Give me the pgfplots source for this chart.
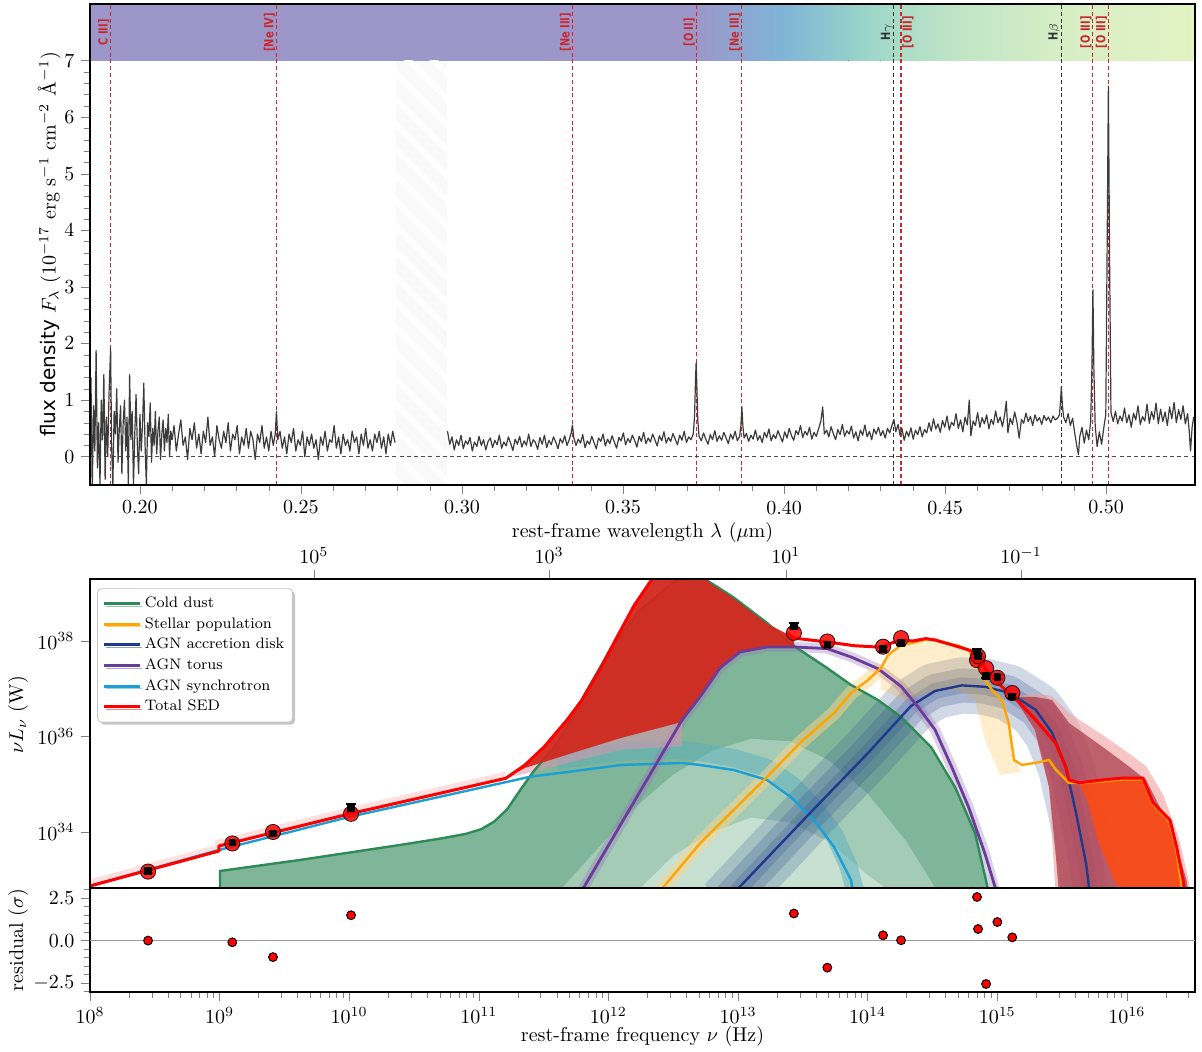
\documentclass[border=0pt]{standalone}
\usepackage{pgfplots}
\pgfplotsset{compat=1.18}
\usepackage{fontspec}
\newfontfamily\dejavu{DejaVu Sans}
\newfontfamily\dejavun[FakeStretch=0.78]{DejaVu Sans}
\usetikzlibrary{patterns.meta,shadows}

\definecolor{dustline}{HTML}{2E8B57}
\definecolor{dustfill}{HTML}{7FB598}
\definecolor{dustfillb}{HTML}{A3CBB6}
\definecolor{dustfillc}{HTML}{C6E0D2}
\definecolor{stellar}{HTML}{FFA500}
\definecolor{disk}{HTML}{1F3A8C}
\definecolor{diskband}{HTML}{34538F}
\definecolor{torus}{HTML}{6A3D9A}
\definecolor{sync}{HTML}{1A9FD6}
\definecolor{syncband}{HTML}{5AB0BE}
\definecolor{redfill}{HTML}{D2281E}
\definecolor{maroonf}{HTML}{A32A3E}
\definecolor{linered}{HTML}{C8282E}
\definecolor{specline}{HTML}{3C3C3C}
\definecolor{bandA}{HTML}{9C97C8}
\definecolor{bandB}{HTML}{8CA7D2}
\definecolor{bandC}{HTML}{80B4D6}
\definecolor{bandD}{HTML}{93CFCC}
\definecolor{bandE}{HTML}{A3D9C8}
\definecolor{bandF}{HTML}{C1E5C6}
\definecolor{bandG}{HTML}{D6EEC5}
\definecolor{bandH}{HTML}{E3F3C3}

\newcommand{\lbl}[4][south]{\node[rotate=90, anchor=#1, inner sep=0.5pt, text=#4, font={\dejavun\bfseries\fontsize{6.3}{7}\selectfont}] at (axis cs:#2,7.5) {#3};}

\begin{document}
\begin{tikzpicture}
\path[use as bounding box] (0,0) rectangle (601pt,526pt);

% ================= TOP: spectrum =================
\begin{axis}[at={(45pt,283.5pt)}, anchor=south west, scale only axis,
 width=552.5pt, height=240.5pt,
 xmin=0.1845, xmax=0.5276, ymin=-0.5, ymax=8,
 xtick={0.20,0.25,0.30,0.35,0.40,0.45,0.50},
 xticklabels={0.20,0.25,0.30,0.35,0.40,0.45,0.50},
 ytick={0,1,2,3,4,5,6,7},
 minor x tick num=4, minor y tick num=4,
 tick align=outside, xtick pos=bottom, ytick pos=left,
 axis line style={line width=1pt}, axis on top,
 ylabel={{\dejavu flux density} $F_\lambda$ ($10^{-17}$ erg s$^{-1}$ cm$^{-2}$ \AA$^{-1}$)},
 ylabel style={at={(axis description cs:-0.037,0.5)}, anchor=center},
]
% colour band
\fill[bandA] (axis cs:0.1845,7) rectangle (axis cs:0.3720,8);
\fill[left color=bandA, right color=bandB] (axis cs:0.3720,7) rectangle (axis cs:0.3870,8);
\fill[left color=bandB, right color=bandC] (axis cs:0.3870,7) rectangle (axis cs:0.3990,8);
\fill[left color=bandC, right color=bandD] (axis cs:0.3990,7) rectangle (axis cs:0.4200,8);
\fill[left color=bandD, right color=bandE] (axis cs:0.4200,7) rectangle (axis cs:0.4300,8);
\fill[left color=bandE, right color=bandF] (axis cs:0.4300,7) rectangle (axis cs:0.4550,8);
\fill[left color=bandF, right color=bandG] (axis cs:0.4550,7) rectangle (axis cs:0.4860,8);
\fill[left color=bandG, right color=bandH] (axis cs:0.4860,7) rectangle (axis cs:0.5276,8);
% gap
\fill[gray!5] (axis cs:0.2795,-0.5) rectangle (axis cs:0.2955,7);
\fill[pattern={Lines[angle=-45,distance=9pt,line width=3pt]}, pattern color=white] (axis cs:0.2795,-0.5) rectangle (axis cs:0.2955,7);
% line markers
\pgfplotsset{emr/.style={linered, line width=0.55pt, dash pattern=on 2pt off 1.4pt, forget plot},
             emh/.style={black!80, line width=0.55pt, dash pattern=on 2pt off 1.4pt, forget plot}}
\addplot[emr] coordinates {(0.1909,-0.5) (0.1909,8)};
\addplot[emr] coordinates {(0.2424,-0.5) (0.2424,8)};
\addplot[emr] coordinates {(0.3343,-0.5) (0.3343,8)};
\addplot[emr] coordinates {(0.3727,-0.5) (0.3727,8)};
\addplot[emr] coordinates {(0.3869,-0.5) (0.3869,8)};
\addplot[emh] coordinates {(0.4341,-0.5) (0.4341,8)};
\addplot[emr] coordinates {(0.4363,-0.5) (0.4363,8)};
\addplot[emh] coordinates {(0.4861,-0.5) (0.4861,8)};
\addplot[emr] coordinates {(0.4959,-0.5) (0.4959,8)};
\addplot[emr] coordinates {(0.5007,-0.5) (0.5007,8)};
% zero line
\addplot[black!70, line width=0.5pt, dash pattern=on 2pt off 1.6pt, forget plot] coordinates {(0.1845,0) (0.5276,0)};
% spectrum (blue part)
\addplot[specline, line width=0.6pt, line join=round, forget plot] table[x=x,y=y] {
x y
0.1848 1.40
0.1852 -0.60
0.1856 0.90
0.1860 0.10
0.1864 1.88
0.1868 -0.20
0.1872 0.60
0.1876 -0.50
0.1880 1.00
0.1884 0.30
0.1888 1.45
0.1892 -0.40
0.1896 0.70
0.1900 0.00
0.1904 1.10
0.1909 1.92
0.1912 0.20
0.1916 -0.50
0.1920 0.80
0.1924 0.40
0.1928 1.20
0.1932 -0.10
0.1936 0.50
0.1940 0.90
0.1944 -0.30
0.1948 0.60
0.1952 1.00
0.1956 0.10
0.1960 0.70
0.1964 -0.50
0.1968 1.45
0.1972 0.30
0.1976 0.80
0.1980 -0.50
0.1984 0.40
0.1988 1.10
0.1992 0.20
0.1996 -0.30
0.2000 0.75
0.2004 0.10
0.2008 0.55
0.2012 1.30
0.2016 0.20
0.2020 -0.50
0.2024 0.60
0.2028 0.35
0.2032 0.95
0.2036 -0.10
0.2040 0.50
0.2044 0.20
0.2048 0.80
0.2052 0.05
0.2056 0.45
0.2060 0.70
0.2064 -0.05
0.2068 0.40
0.2072 0.65
0.2076 0.10
0.2080 0.50
0.2084 0.25
0.2088 0.75
0.2092 0.00
0.2096 0.45
0.2100 0.30
0.2106 0.55
0.2113 0.10
0.2120 0.40
0.2127 0.65
0.2134 0.20
0.2141 0.35
0.2148 -0.05
0.2155 0.50
0.2162 0.30
0.2169 0.60
0.2176 0.15
0.2183 0.40
0.2190 0.05
0.2197 0.45
0.2204 0.25
0.2211 0.70
0.2218 0.20
0.2225 0.35
0.2232 0.00
0.2239 0.55
0.2246 0.30
0.2253 0.15
0.2260 0.45
0.2267 0.25
0.2274 0.60
0.2281 0.10
0.2288 0.40
0.2295 0.30
0.2302 0.55
0.2309 0.05
0.2316 0.35
0.2323 0.20
0.2330 0.50
0.2337 0.15
0.2344 0.45
0.2351 0.30
0.2358 -0.05
0.2365 0.40
0.2372 0.25
0.2379 0.55
0.2386 0.15
0.2393 0.35
0.2400 0.10
0.2407 0.45
0.2414 0.20
0.2420 0.40
0.2424 0.80
0.2428 0.30
0.2435 0.45
0.2442 0.15
0.2449 0.35
0.2456 0.05
0.2463 0.40
0.2470 0.25
0.2477 0.50
0.2484 0.10
0.2491 0.30
0.2498 0.20
0.2505 0.45
0.2512 0.00
0.2519 0.35
0.2526 0.20
0.2533 0.40
0.2540 0.15
0.2547 0.30
0.2554 -0.05
0.2561 0.35
0.2568 0.20
0.2575 0.45
0.2582 0.10
0.2589 0.30
0.2596 0.25
0.2603 0.55
0.2610 0.15
0.2617 0.35
0.2624 0.05
0.2631 0.40
0.2638 0.20
0.2645 0.30
0.2652 0.10
0.2659 0.45
0.2666 0.25
0.2673 0.35
0.2680 0.05
0.2687 0.40
0.2694 0.20
0.2701 0.50
0.2708 0.15
0.2715 0.30
0.2722 0.10
0.2729 0.40
0.2736 0.25
0.2743 0.45
0.2750 0.15
0.2757 0.35
0.2764 0.05
0.2771 0.40
0.2778 0.20
0.2785 0.45
0.2792 0.25
};
% spectrum (red part)
\addplot[specline, line width=0.6pt, line join=round, forget plot] table[x=x,y=y] {
x y
0.2955 0.45
0.2962 0.22
0.2969 0.35
0.2976 0.12
0.2983 0.30
0.2990 0.20
0.2997 0.38
0.3004 0.14
0.3011 0.28
0.3018 0.22
0.3025 0.34
0.3032 0.10
0.3039 0.26
0.3046 0.18
0.3053 0.36
0.3060 0.20
0.3067 0.30
0.3074 0.12
0.3081 0.27
0.3088 0.33
0.3095 0.16
0.3102 0.29
0.3109 0.21
0.3116 0.38
0.3123 0.15
0.3130 0.26
0.3137 0.19
0.3144 0.35
0.3151 0.24
0.3158 0.11
0.3165 0.31
0.3172 0.22
0.3179 0.36
0.3186 0.17
0.3193 0.28
0.3200 0.20
0.3207 0.40
0.3214 0.18
0.3221 0.30
0.3228 0.25
0.3235 0.13
0.3242 0.34
0.3249 0.22
0.3256 0.38
0.3263 0.16
0.3270 0.29
0.3277 0.21
0.3284 0.35
0.3291 0.26
0.3298 0.14
0.3305 0.32
0.3312 0.24
0.3319 0.37
0.3326 0.20
0.3333 0.30
0.3339 0.42
0.3343 0.56
0.3347 0.34
0.3354 0.20
0.3361 0.31
0.3368 0.24
0.3375 0.39
0.3382 0.16
0.3389 0.28
0.3396 0.22
0.3403 0.36
0.3410 0.25
0.3417 0.14
0.3424 0.33
0.3431 0.27
0.3438 0.40
0.3445 0.19
0.3452 0.31
0.3459 0.23
0.3466 0.37
0.3473 0.26
0.3480 0.15
0.3487 0.34
0.3494 0.28
0.3501 0.42
0.3508 0.21
0.3515 0.32
0.3522 0.25
0.3529 0.38
0.3536 0.29
0.3543 0.17
0.3550 0.36
0.3557 0.27
0.3564 0.43
0.3571 0.23
0.3578 0.33
0.3585 0.26
0.3592 0.40
0.3599 0.30
0.3606 0.19
0.3613 0.37
0.3620 0.28
0.3627 0.44
0.3634 0.24
0.3641 0.34
0.3648 0.27
0.3655 0.41
0.3662 0.31
0.3669 0.21
0.3676 0.38
0.3683 0.29
0.3690 0.45
0.3697 0.25
0.3704 0.35
0.3711 0.30
0.3718 0.40
0.3722 0.70
0.3725 1.35
0.3727 1.66
0.3729 1.30
0.3732 0.65
0.3736 0.36
0.3743 0.28
0.3750 0.42
0.3757 0.31
0.3764 0.22
0.3771 0.39
0.3778 0.30
0.3785 0.46
0.3792 0.27
0.3799 0.37
0.3806 0.29
0.3813 0.43
0.3820 0.33
0.3827 0.23
0.3834 0.40
0.3841 0.31
0.3848 0.45
0.3855 0.28
0.3862 0.36
0.3866 0.55
0.3869 0.88
0.3872 0.55
0.3876 0.33
0.3883 0.41
0.3890 0.27
0.3897 0.38
0.3904 0.31
0.3911 0.47
0.3918 0.29
0.3925 0.37
0.3932 0.25
0.3939 0.43
0.3946 0.34
0.3953 0.49
0.3960 0.28
0.3967 0.39
0.3974 0.32
0.3981 0.46
0.3988 0.36
0.3995 0.26
0.4002 0.44
0.4009 0.33
0.4016 0.50
0.4023 0.37
0.4030 0.29
0.4037 0.46
0.4044 0.39
0.4051 0.55
0.4058 0.34
0.4065 0.45
0.4072 0.38
0.4079 0.52
0.4086 0.31
0.4093 0.43
0.4100 0.36
0.4107 0.49
0.4114 0.62
0.4120 0.88
0.4125 0.40
0.4132 0.47
0.4139 0.35
0.4146 0.53
0.4153 0.41
0.4160 0.30
0.4167 0.48
0.4174 0.39
0.4181 0.57
0.4188 0.36
0.4195 0.46
0.4202 0.40
0.4209 0.54
0.4216 0.33
0.4223 0.44
0.4230 0.28
0.4237 0.47
0.4244 0.38
0.4251 0.56
0.4258 0.35
0.4265 0.45
0.4272 0.30
0.4279 0.49
0.4286 0.40
0.4293 0.52
0.4300 0.37
0.4307 0.46
0.4314 0.33
0.4321 0.50
0.4328 0.42
0.4335 0.55
0.4341 0.66
0.4347 0.44
0.4354 0.57
0.4360 0.38
0.4366 0.50
0.4373 0.29
0.4380 0.45
0.4387 0.36
0.4394 0.51
0.4401 0.31
0.4408 0.47
0.4415 0.39
0.4422 0.53
0.4429 0.35
0.4436 0.48
0.4443 0.42
0.4450 0.60
0.4457 0.45
0.4464 0.67
0.4471 0.49
0.4478 0.58
0.4485 0.43
0.4492 0.64
0.4499 0.52
0.4506 0.72
0.4513 0.47
0.4520 0.61
0.4527 0.55
0.4534 0.76
0.4541 0.50
0.4548 0.65
0.4555 0.44
0.4562 0.70
0.4569 0.56
0.4575 1.00
0.4580 0.37
0.4587 0.63
0.4594 0.55
0.4601 0.78
0.4608 0.52
0.4615 0.69
0.4622 0.58
0.4629 0.74
0.4636 0.49
0.4643 0.66
0.4650 0.57
0.4657 0.81
0.4664 0.60
0.4671 0.70
0.4678 0.53
0.4685 0.75
0.4690 0.98
0.4695 0.42
0.4702 0.68
0.4709 0.57
0.4716 0.79
0.4723 0.61
0.4730 0.33
0.4737 0.66
0.4744 0.59
0.4751 0.77
0.4758 0.62
0.4765 0.71
0.4772 0.55
0.4779 0.74
0.4786 0.63
0.4793 0.69
0.4800 0.57
0.4807 0.73
0.4814 0.64
0.4821 0.70
0.4828 0.60
0.4835 0.72
0.4842 0.65
0.4849 0.68
0.4855 0.74
0.4858 0.95
0.4861 1.24
0.4864 0.92
0.4868 0.70
0.4875 0.60
0.4882 0.76
0.4889 0.55
0.4896 0.68
0.4903 0.40
0.4910 0.15
0.4914 0.04
0.4918 0.35
0.4925 0.52
0.4932 0.24
0.4939 0.47
0.4946 0.30
0.4952 0.62
0.4956 1.60
0.4959 2.95
0.4962 1.55
0.4966 0.55
0.4972 0.18
0.4979 0.44
0.4986 0.22
0.4993 0.52
0.4999 0.75
0.5003 3.60
0.5007 6.55
0.5011 3.30
0.5015 0.78
0.5022 0.62
0.5029 0.80
0.5036 0.58
0.5043 0.72
0.5050 0.63
0.5057 0.86
0.5064 0.60
0.5071 0.74
0.5078 0.52
0.5085 0.77
0.5092 0.65
0.5099 0.90
0.5106 0.57
0.5113 0.71
0.5120 0.63
0.5127 0.93
0.5134 0.59
0.5141 0.80
0.5148 0.66
0.5155 0.95
0.5162 0.58
0.5169 0.84
0.5176 0.62
0.5183 0.79
0.5190 0.55
0.5197 0.88
0.5204 0.67
0.5211 0.96
0.5218 0.60
0.5225 0.83
0.5232 0.66
0.5239 0.90
0.5246 0.58
0.5253 0.76
0.5258 0.45
0.5262 0.10
0.5267 0.52
0.5272 0.70
};
% labels
\lbl{0.1909}{C III]}{linered}
\lbl{0.2424}{[Ne IV]}{linered}
\lbl{0.3343}{[Ne III]}{linered}
\lbl{0.3727}{[O II]}{linered}
\lbl{0.3869}{[Ne III]}{linered}
\lbl{0.4341}{H{\normalfont$\gamma$}}{black!80}
\lbl[north]{0.4363}{[O III]}{linered}
\lbl{0.4861}{H{\normalfont$\beta$}}{black!80}
\lbl{0.4959}{[O III]}{linered}
\lbl{0.5007}{[O III]}{linered}
\end{axis}

% ================= SED =================
\begin{axis}[at={(45pt,82pt)}, anchor=south west, scale only axis,
 width=552.5pt, height=154.5pt,
 xmin=8, xmax=16.526, ymin=32.827, ymax=39.298,
 xtick=\empty, ytick={34,36,38}, yticklabels={$10^{34}$,$10^{36}$,$10^{38}$},
 tick align=outside, ytick pos=left,
 axis line style={line width=1pt}, axis on top,
 ylabel={$\nu L_\nu$ (W)},
 ylabel style={at={(axis description cs:-0.065,0.56)}, anchor=center},
 legend cell align=left,
 legend style={at={(axis description cs:0.0065,0.97)}, anchor=north west,
   font=\fontsize{7.6}{8.5}\selectfont, draw=gray!45, fill=white, rounded corners=2pt,
   drop shadow={shadow xshift=1.2pt, shadow yshift=-1.2pt, opacity=0.45},
   inner sep=2.5pt, row sep=0pt, nodes={inner sep=1.7pt}},
 legend image code/.code={\draw[#1, line width=1.5pt] (0pt,0pt) -- (18pt,0pt);},
]
% cold dust fills
\addplot[draw=none, fill=dustfill, forget plot] coordinates {(9.003,32.7) (9.003,33.183) (9.620,33.414) (10.392,33.728) (10.70,33.86) (10.90,33.96) (11.02,34.06) (11.12,34.22) (11.22,34.48) (11.32,34.88) (11.42,35.26) (11.52,35.58) (11.62,35.92) (11.72,36.38) (11.82,36.90) (12.012,37.812) (12.244,38.649) (12.475,39.173) (12.6,39.40) (12.707,39.35) (12.80,39.20) (12.961,38.921) (13.224,38.377) (13.401,37.958) (13.478,37.812) (13.687,37.435) (13.872,37.079) (14.080,36.764) (14.258,36.408) (14.489,35.780) (14.674,34.942) (14.829,33.979) (14.937,32.7)} --cycle;
\addplot[draw=none, fill=dustfillb, forget plot] coordinates {(11.6,32.7) (11.9,33.6) (12.2,34.5) (12.5,35.2) (12.8,35.7) (13.1,35.95) (13.4,35.9) (13.7,35.5) (14.0,34.8) (14.3,33.8) (14.55,32.7)} --cycle;
\addplot[draw=none, fill=dustfillc, forget plot] coordinates {(12.2,32.7) (12.5,33.5) (12.8,34.0) (13.1,34.3) (13.4,34.2) (13.7,33.8) (14.0,33.1) (14.2,32.7)} --cycle;
% synchrotron band
\addplot[syncband, line width=9pt, opacity=0.5, line join=round, forget plot] coordinates {(11.6,35.50) (12.09,35.68) (12.568,35.72) (12.707,35.67) (12.967,35.55) (13.224,35.34) (13.406,35.01) (13.586,34.52) (13.741,33.95) (13.85,33.3) (13.93,32.5)};
% accretion disk band
\addplot[diskband, line width=28pt, opacity=0.22, line join=round, forget plot] coordinates {(12.90,32.5) (13.556,34.398) (14.003,35.654) (14.335,36.639) (14.520,36.953) (14.727,37.07) (14.906,37.04) (15.089,36.92) (15.296,36.56) (15.423,36.08) (15.529,35.36) (15.608,34.40) (15.685,33.35) (15.73,32.5)};
\addplot[diskband, line width=17pt, opacity=0.25, line join=round, forget plot] coordinates {(12.90,32.5) (13.556,34.398) (14.003,35.654) (14.335,36.639) (14.520,36.953) (14.727,37.07) (14.906,37.04) (15.089,36.92) (15.296,36.56) (15.423,36.08) (15.529,35.36) (15.608,34.40) (15.685,33.35) (15.73,32.5)};
\addplot[diskband, line width=8pt, opacity=0.25, line join=round, forget plot] coordinates {(12.90,32.5) (13.556,34.398) (14.003,35.654) (14.335,36.639) (14.520,36.953) (14.727,37.07) (14.906,37.04) (15.089,36.92) (15.296,36.56) (15.423,36.08) (15.529,35.36) (15.608,34.40) (15.685,33.35) (15.73,32.5)};
% torus band
\addplot[torus!70, line width=5pt, opacity=0.35, line join=round, forget plot] coordinates {(11.76,32.6) (12.568,36.346) (12.707,36.83) (12.861,37.435) (13.015,37.77) (13.224,37.874) (13.432,37.874) (13.687,37.84) (13.872,37.665) (14.080,37.42) (14.258,37.05) (14.389,36.62) (14.520,36.14) (14.649,35.36) (14.779,34.52) (14.906,33.54) (15.0,32.6)};
% stellar band
\addplot[stellar!45, line width=7pt, opacity=0.5, line join=round, forget plot] coordinates {(12.38,32.7) (12.707,33.763) (13.224,35.152) (13.478,35.864) (13.741,36.492) (13.872,36.911) (14.003,37.183) (14.103,37.435)};
\addplot[draw=none, fill=stellar, fill opacity=0.2, forget plot] coordinates {(14.103,37.435) (14.157,37.707) (14.258,37.958) (14.520,38.063) (14.775,37.853) (14.906,37.225) (15.037,36.806) (15.099,36.304) (15.130,35.508) (15.191,35.257) (15.022,35.194) (14.906,35.927) (14.829,36.764) (14.713,36.974) (14.520,36.974) (14.289,36.764) (14.103,36.974)} --cycle;
% total pink halo (left)
\addplot[red!35, line width=4pt, opacity=0.35, forget plot] coordinates {(8.000,32.92) (8.995,33.66) (8.995,33.76) (9.998,34.43) (11.209,35.18)};
% pinkish region
\addplot[draw=none, fill={rgb,255:red,220;green,150;blue,175}, fill opacity=0.55, forget plot] coordinates {(11.21,35.13) (11.356,35.34) (11.796,35.717) (12.097,35.969) (12.568,36.304) (12.568,35.80) (12.097,35.72) (11.796,35.52) (11.356,35.22)} --cycle;
% cold dust line (under red fill)
\addplot[dustline, line width=1.2pt, forget plot] coordinates {(9.003,32.7) (9.003,33.183) (9.620,33.414) (10.392,33.728) (10.70,33.86) (10.90,33.96) (11.02,34.06) (11.12,34.22) (11.22,34.48) (11.32,34.88) (11.42,35.26) (11.52,35.58) (11.62,35.92) (11.72,36.38) (11.82,36.90) (12.012,37.812) (12.244,38.649) (12.475,39.173) (12.6,39.40) (12.707,39.35) (12.80,39.20) (12.961,38.921) (13.224,38.377) (13.401,37.958) (13.478,37.812) (13.687,37.435) (13.872,37.079) (14.080,36.764) (14.258,36.408) (14.489,35.780) (14.674,34.942) (14.829,33.979) (14.937,32.7)};
% red fill (left peak)
\addplot[draw=none, fill=redfill, fill opacity=0.95, forget plot] coordinates {(11.209,35.125) (11.356,35.403) (11.503,35.780) (11.681,36.346) (11.796,36.764) (11.935,37.40) (12.05,38.0) (12.2,38.75) (12.35,39.35) (12.55,39.6) (12.707,39.40) (12.80,39.18) (12.961,38.90) (13.224,38.36) (13.378,38.15) (13.432,38.06) (13.432,37.874) (13.224,37.874) (13.015,37.77) (12.861,37.435) (12.707,36.83) (12.568,36.304) (12.097,35.969) (11.796,35.717) (11.356,35.340)} --cycle;
% right red regions
\addplot[draw=none, fill={rgb,255:red,240;green,160;blue,160}, fill opacity=0.6, forget plot] coordinates {(15.128,36.83) (15.30,36.90) (15.42,36.85) (15.56,36.48) (15.82,36.02) (16.03,35.62) (16.15,35.37) (16.28,34.78) (16.40,33.90) (16.50,32.7) (15.45,32.7) (15.40,34.90) (15.29,36.10)} --cycle;
\addplot[draw=none, fill=maroonf, fill opacity=0.65, forget plot] coordinates {(15.128,36.827) (15.299,36.827) (15.423,36.764) (15.554,36.283) (15.814,35.780) (16.021,35.361) (16.148,35.089) (16.279,34.398) (16.384,33.686) (16.461,32.995) (16.475,32.7) (15.477,32.7) (15.446,33.686) (15.400,34.94) (15.291,36.136)} --cycle;
\addplot[draw=none, fill={rgb,255:red,255;green,74;blue,16}, fill opacity=0.85, forget plot] coordinates {(15.631,35.026) (15.814,35.09) (15.969,35.13) (16.125,35.13) (16.202,34.61) (16.333,34.25) (16.384,33.69) (16.434,33.00) (16.449,32.7) (15.95,32.7) (15.78,33.8) (15.70,34.6)} --cycle;
% component lines
\addplot[sync, line width=1.2pt, forget plot] coordinates {(8.000,32.869) (8.995,33.623) (9.998,34.314) (11.387,35.152) (12.097,35.403) (12.568,35.445) (12.707,35.403) (12.967,35.298) (13.224,35.089) (13.406,34.733) (13.586,34.251) (13.741,33.686) (13.872,32.995) (13.888,32.7)};
\addplot[disk, line width=1.2pt, forget plot] coordinates {(12.96,32.7) (13.556,34.398) (14.003,35.654) (14.335,36.639) (14.520,36.953) (14.727,37.07) (14.906,37.04) (15.089,36.92) (15.296,36.56) (15.423,36.08) (15.529,35.36) (15.608,34.40) (15.685,33.35) (15.715,32.7)};
\addplot[torus, line width=1.4pt, forget plot] coordinates {(11.78,32.7) (12.568,36.346) (12.707,36.83) (12.861,37.435) (13.015,37.77) (13.224,37.874) (13.432,37.874) (13.687,37.84) (13.872,37.665) (14.080,37.42) (14.258,37.05) (14.389,36.62) (14.520,36.14) (14.649,35.36) (14.779,34.52) (14.906,33.54) (15.0,32.7)};
\addplot[stellar, line width=1.2pt, forget plot] coordinates {(12.38,32.7) (12.707,33.763) (13.224,35.152) (13.478,35.864) (13.741,36.492) (13.872,36.911) (14.003,37.183) (14.103,37.435) (14.157,37.70) (14.258,37.916) (14.35,37.96) (14.45,38.03) (14.520,38.021) (14.62,37.95) (14.70,37.90) (14.779,37.81) (14.906,37.183) (14.960,36.974) (15.037,36.764) (15.088,36.283) (15.130,35.508) (15.191,35.403) (15.30,35.45) (15.400,35.508) (15.454,35.298) (15.554,35.026) (15.654,35.026) (15.814,35.06) (15.969,35.10) (16.125,35.10) (16.20,34.58) (16.33,34.22) (16.38,33.66) (16.43,32.7)};
\addplot[red, line width=1.5pt, line join=round, forget plot] coordinates {(8.000,32.869) (8.995,33.602) (8.995,33.707) (9.998,34.377) (11.209,35.125) (11.356,35.403) (11.503,35.780) (11.681,36.346) (11.796,36.764) (11.935,37.40) (12.05,38.0) (12.2,38.75) (12.35,39.35) (12.45,39.6)};
\addplot[red, line width=1.5pt, line join=round, forget plot] coordinates {(13.378,38.168) (13.432,38.06) (13.687,37.98) (13.90,37.90) (14.096,37.87) (14.25,38.02) (14.35,38.00) (14.45,38.05) (14.52,38.02) (14.674,37.90) (14.806,37.79) (14.856,37.60) (14.934,37.33) (15.037,37.04) (15.128,36.83) (15.296,36.35) (15.451,35.86) (15.529,35.36) (15.554,35.09) (15.631,35.03) (15.814,35.09) (15.969,35.13) (16.125,35.13) (16.202,34.61) (16.333,34.25) (16.384,33.69) (16.434,33.00) (16.449,32.7)};
% model photometry
\addplot[only marks, mark=*, mark size=3.8pt, mark options={fill=red, draw=none, opacity=0.85}, forget plot] coordinates {(8.448,33.17) (9.098,33.76) (9.412,34.00) (10.014,34.38) (13.431,38.17) (13.689,37.99) (14.119,37.88) (14.258,38.06) (14.844,37.60) (14.852,37.68) (14.914,37.43) (15.001,37.23) (15.116,36.91)};
% observed data
\addplot[only marks, mark=square*, mark size=1.7pt, mark options={fill=black, draw=black}, forget plot,
  error bars/.cd, y dir=both, y explicit, error bar style={black, line width=1pt},
  error mark options={rotate=90, mark size=2.6pt, black, line width=1pt}] coordinates {
(8.448,33.19) +- (0,0.04)
(9.098,33.78) +- (0,0.04)
(9.412,33.97) +- (0,0.04)
(10.014,34.50) +- (0,0.08)
(13.431,38.31) +- (0,0.06)
(13.689,37.93) +- (0,0.04)
(14.119,37.84) +- (0,0.04)
(14.258,37.96) +- (0,0.04)
(14.844,37.78) +- (0,0.05)
(14.852,37.69) +- (0,0.05)
(14.914,37.27) +- (0,0.05)
(15.001,37.24) +- (0,0.04)
(15.116,36.84) +- (0,0.04)
};
\addlegendimage{dustline}\addlegendentry{Cold dust}
\addlegendimage{stellar}\addlegendentry{Stellar population}
\addlegendimage{disk}\addlegendentry{AGN accretion disk}
\addlegendimage{torus}\addlegendentry{AGN torus}
\addlegendimage{sync}\addlegendentry{AGN synchrotron}
\addlegendimage{red}\addlegendentry{Total SED}
\end{axis}

% top wavelength axis
\begin{axis}[at={(45pt,82pt)}, anchor=south west, scale only axis,
 width=552.5pt, height=154.5pt,
 xmin=8, xmax=16.526, ymin=0, ymax=1,
 axis x line*=top, axis y line=none,
 xtick={9.728,11.542,13.370,15.184},
 xticklabels={$10^{5}$,$10^{3}$,$10^{1}$,$10^{-1}$},
 tick align=outside, axis line style={line width=1pt},
 xlabel={rest-frame wavelength $\lambda$ ($\mu$m)},
 xlabel style={at={(axis description cs:0.5,1)}, anchor=center, yshift=23pt},
]
\addplot[draw=none, forget plot] coordinates {(8,0.5) (16,0.5)};
\end{axis}

% ================= residuals =================
\begin{axis}[at={(45pt,30pt)}, anchor=south west, scale only axis,
 width=552.5pt, height=52pt,
 xmin=8, xmax=16.526, ymin=-3.02, ymax=3.09,
 xtick={8,9,10,11,12,13,14,15,16},
 xticklabels={$10^{8}$,$10^{9}$,$10^{10}$,$10^{11}$,$10^{12}$,$10^{13}$,$10^{14}$,$10^{15}$,$10^{16}$},
 minor xtick={8.301,8.477,8.602,8.699,8.778,8.845,8.903,8.954,9.301,9.477,9.602,9.699,9.778,9.845,9.903,9.954,10.301,10.477,10.602,10.699,10.778,10.845,10.903,10.954,11.301,11.477,11.602,11.699,11.778,11.845,11.903,11.954,12.301,12.477,12.602,12.699,12.778,12.845,12.903,12.954,13.301,13.477,13.602,13.699,13.778,13.845,13.903,13.954,14.301,14.477,14.602,14.699,14.778,14.845,14.903,14.954,15.301,15.477,15.602,15.699,15.778,15.845,15.903,15.954,16.301,16.477},
 ytick={-2.5,0,2.5}, yticklabels={$-2.5$,$0.0$,$2.5$},
 minor ytick={-3,-2,-1.5,-1,-0.5,0.5,1,1.5,2,3},
 tick align=outside, xtick pos=bottom, ytick pos=left,
 axis line style={line width=1pt},
 xlabel={rest-frame frequency $\nu$ (Hz)},
 xlabel style={at={(axis description cs:0.5,0)}, anchor=center, yshift=-22.5pt},
 ylabel={residual ($\sigma$)},
 ylabel style={at={(axis description cs:-0.065,0.5)}, anchor=center},
]
\addplot[gray!80, line width=0.9pt, forget plot] coordinates {(8,0) (16.526,0)};
\addplot[only marks, mark=*, mark size=2.2pt, mark options={fill=red, draw=black, line width=0.5pt}, forget plot] coordinates {(8.448,0.0) (9.098,-0.10) (9.412,-0.97) (10.014,1.49) (13.431,1.59) (13.689,-1.59) (14.119,0.31) (14.258,0.02) (14.844,2.56) (14.852,0.68) (14.914,-2.55) (15.001,1.09) (15.116,0.19)};
\end{axis}
\end{tikzpicture}
\end{document}
